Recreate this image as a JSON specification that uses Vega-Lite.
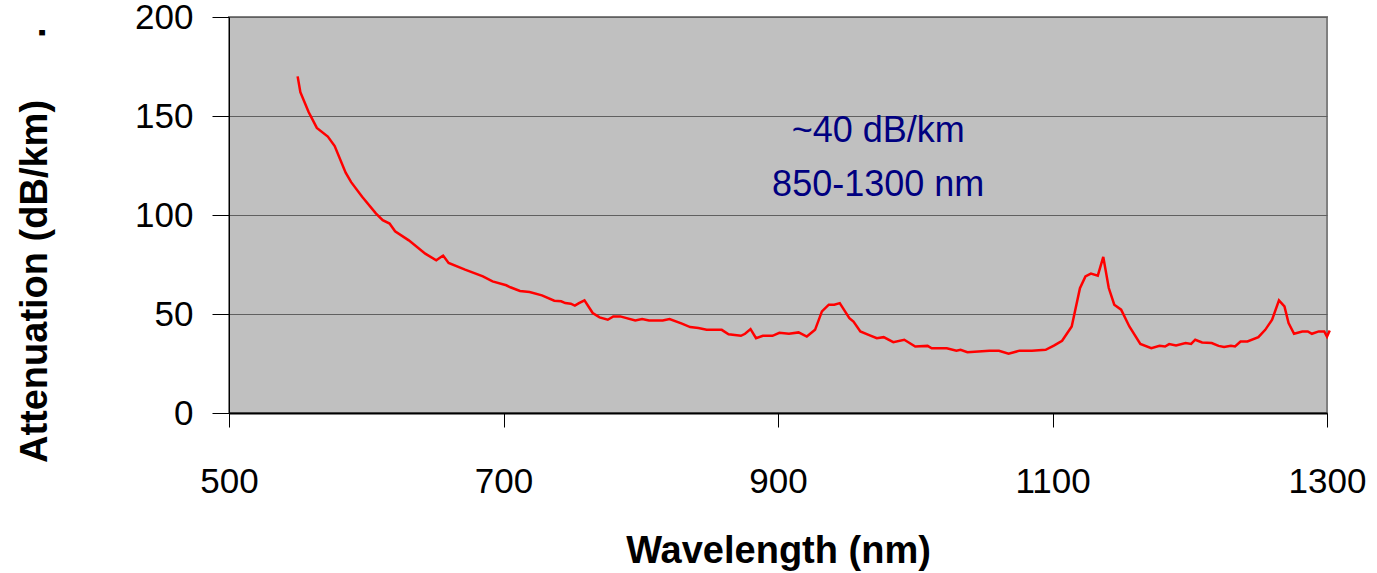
{
  "$schema": "https://vega.github.io/schema/vega-lite/v6.json",
  "width": 1098,
  "height": 396,
  "autosize": {"type": "none"},
  "padding": {"left": 229, "top": 17, "right": 50, "bottom": 160},
  "background": "white",
  "config": {
    "view": {"fill": "#c0c0c0", "stroke": "#808080", "strokeWidth": 2},
    "font": "Liberation Sans"
  },
  "datasets": {
    "spectrum": [
      {"wavelength": 550, "attenuation": 170},
      {"wavelength": 552, "attenuation": 162},
      {"wavelength": 558, "attenuation": 152},
      {"wavelength": 564, "attenuation": 144},
      {"wavelength": 572, "attenuation": 139.6},
      {"wavelength": 577, "attenuation": 134.8},
      {"wavelength": 585, "attenuation": 121.4},
      {"wavelength": 589, "attenuation": 116.6},
      {"wavelength": 597, "attenuation": 109.2},
      {"wavelength": 607, "attenuation": 100.8},
      {"wavelength": 612, "attenuation": 97.4},
      {"wavelength": 617, "attenuation": 95.7},
      {"wavelength": 621, "attenuation": 91.8},
      {"wavelength": 631, "attenuation": 87.2},
      {"wavelength": 643, "attenuation": 80.5},
      {"wavelength": 651, "attenuation": 77.1},
      {"wavelength": 656, "attenuation": 79.5},
      {"wavelength": 660, "attenuation": 75.8},
      {"wavelength": 672, "attenuation": 72.4},
      {"wavelength": 685, "attenuation": 69},
      {"wavelength": 692, "attenuation": 66.5},
      {"wavelength": 702, "attenuation": 64.5},
      {"wavelength": 705, "attenuation": 63.5},
      {"wavelength": 712, "attenuation": 61.6},
      {"wavelength": 719, "attenuation": 61.1},
      {"wavelength": 728, "attenuation": 59.4},
      {"wavelength": 737, "attenuation": 56.7},
      {"wavelength": 742, "attenuation": 56.4},
      {"wavelength": 745, "attenuation": 55.5},
      {"wavelength": 749, "attenuation": 55.2},
      {"wavelength": 752, "attenuation": 54.2},
      {"wavelength": 755, "attenuation": 55.5},
      {"wavelength": 759, "attenuation": 56.9},
      {"wavelength": 765, "attenuation": 50.5},
      {"wavelength": 770, "attenuation": 48.3},
      {"wavelength": 776, "attenuation": 47.1},
      {"wavelength": 780, "attenuation": 48.8},
      {"wavelength": 785, "attenuation": 48.8},
      {"wavelength": 796, "attenuation": 46.7},
      {"wavelength": 801, "attenuation": 47.4},
      {"wavelength": 806, "attenuation": 46.7},
      {"wavelength": 816, "attenuation": 46.7},
      {"wavelength": 821, "attenuation": 47.4},
      {"wavelength": 830, "attenuation": 45.1},
      {"wavelength": 836, "attenuation": 43.4},
      {"wavelength": 842, "attenuation": 42.9},
      {"wavelength": 848, "attenuation": 42},
      {"wavelength": 859, "attenuation": 42},
      {"wavelength": 864, "attenuation": 39.8},
      {"wavelength": 873, "attenuation": 39},
      {"wavelength": 876, "attenuation": 40},
      {"wavelength": 880, "attenuation": 42.4},
      {"wavelength": 884, "attenuation": 37.8},
      {"wavelength": 889, "attenuation": 39},
      {"wavelength": 896, "attenuation": 39},
      {"wavelength": 901, "attenuation": 40.5},
      {"wavelength": 908, "attenuation": 40},
      {"wavelength": 915, "attenuation": 40.7},
      {"wavelength": 921, "attenuation": 38.6},
      {"wavelength": 927, "attenuation": 42},
      {"wavelength": 932, "attenuation": 51.3},
      {"wavelength": 937, "attenuation": 54.7},
      {"wavelength": 941, "attenuation": 54.7},
      {"wavelength": 945, "attenuation": 55.5},
      {"wavelength": 952, "attenuation": 47.9},
      {"wavelength": 955, "attenuation": 46.2},
      {"wavelength": 960, "attenuation": 41.2},
      {"wavelength": 966, "attenuation": 39.5},
      {"wavelength": 972, "attenuation": 37.8},
      {"wavelength": 977, "attenuation": 38.3},
      {"wavelength": 984, "attenuation": 35.8},
      {"wavelength": 992, "attenuation": 37},
      {"wavelength": 1000, "attenuation": 33.6},
      {"wavelength": 1009, "attenuation": 33.9},
      {"wavelength": 1012, "attenuation": 32.7},
      {"wavelength": 1023, "attenuation": 32.7},
      {"wavelength": 1030, "attenuation": 31.4},
      {"wavelength": 1033, "attenuation": 31.9},
      {"wavelength": 1038, "attenuation": 30.7},
      {"wavelength": 1054, "attenuation": 31.5},
      {"wavelength": 1061, "attenuation": 31.4},
      {"wavelength": 1068, "attenuation": 29.9},
      {"wavelength": 1076, "attenuation": 31.5},
      {"wavelength": 1085, "attenuation": 31.5},
      {"wavelength": 1095, "attenuation": 31.9},
      {"wavelength": 1101, "attenuation": 34},
      {"wavelength": 1107, "attenuation": 36.5},
      {"wavelength": 1114, "attenuation": 43.7},
      {"wavelength": 1120, "attenuation": 63},
      {"wavelength": 1124, "attenuation": 69},
      {"wavelength": 1128, "attenuation": 70.4},
      {"wavelength": 1133, "attenuation": 69.4},
      {"wavelength": 1137, "attenuation": 78.8},
      {"wavelength": 1141, "attenuation": 63.1},
      {"wavelength": 1145, "attenuation": 54.7},
      {"wavelength": 1150, "attenuation": 52.2},
      {"wavelength": 1156, "attenuation": 43.7},
      {"wavelength": 1164, "attenuation": 34.9},
      {"wavelength": 1172, "attenuation": 32.7},
      {"wavelength": 1178, "attenuation": 33.9},
      {"wavelength": 1182, "attenuation": 33.6},
      {"wavelength": 1185, "attenuation": 34.8},
      {"wavelength": 1190, "attenuation": 34.1},
      {"wavelength": 1197, "attenuation": 35.3},
      {"wavelength": 1201, "attenuation": 34.9},
      {"wavelength": 1204, "attenuation": 37},
      {"wavelength": 1209, "attenuation": 35.6},
      {"wavelength": 1216, "attenuation": 35.3},
      {"wavelength": 1221, "attenuation": 33.9},
      {"wavelength": 1225, "attenuation": 33.3},
      {"wavelength": 1230, "attenuation": 33.9},
      {"wavelength": 1233, "attenuation": 33.6},
      {"wavelength": 1237, "attenuation": 36.1},
      {"wavelength": 1242, "attenuation": 36.1},
      {"wavelength": 1250, "attenuation": 38.3},
      {"wavelength": 1255, "attenuation": 42},
      {"wavelength": 1260, "attenuation": 47.1},
      {"wavelength": 1265, "attenuation": 56.9},
      {"wavelength": 1269, "attenuation": 53.8},
      {"wavelength": 1272, "attenuation": 45.4},
      {"wavelength": 1276, "attenuation": 40},
      {"wavelength": 1282, "attenuation": 41.2},
      {"wavelength": 1286, "attenuation": 41.2},
      {"wavelength": 1289, "attenuation": 40},
      {"wavelength": 1294, "attenuation": 41.2},
      {"wavelength": 1298, "attenuation": 41.2},
      {"wavelength": 1300, "attenuation": 38.6},
      {"wavelength": 1302, "attenuation": 41.7}
    ],
    "notes": [
      {"wavelength": 973, "attenuation": 142.6, "label": "~40 dB/km"},
      {"wavelength": 973, "attenuation": 115.3, "label": "850-1300 nm"}
    ]
  },
  "layer": [
    {
      "data": {"name": "spectrum"},
      "mark": {"type": "line", "color": "#ff0000", "strokeWidth": 2.5, "clip": false},
      "encoding": {
        "x": {
          "field": "wavelength",
          "type": "quantitative",
          "scale": {"domain": [500, 1300], "nice": false, "zero": false},
          "axis": {
            "title": "Wavelength (nm)",
            "values": [500, 700, 900, 1100, 1300],
            "format": "d",
            "grid": false,
            "domainColor": "#000000",
            "domainWidth": 2,
            "tickColor": "#000000",
            "tickSize": 14,
            "tickWidth": 1,
            "labelFontSize": 35,
            "labelColor": "#000000",
            "labelPadding": 37,
            "labelFlush": false,
            "labelFont": "Liberation Sans",
            "titleFont": "Liberation Sans",
            "titleFontSize": 38,
            "titleFontWeight": "bold",
            "titleColor": "#000000",
            "titleBaseline": "alphabetic",
            "titleY": 149
          }
        },
        "y": {
          "field": "attenuation",
          "type": "quantitative",
          "scale": {"domain": [0, 200], "nice": false},
          "axis": {
            "title": "Attenuation (dB/km)",
            "values": [0, 50, 100, 150, 200],
            "grid": true,
            "gridColor": "#606060",
            "gridWidth": 1,
            "domainColor": "#000000",
            "domainWidth": 1,
            "tickColor": "#000000",
            "tickSize": 17,
            "tickWidth": 1,
            "labelFontSize": 35,
            "labelColor": "#000000",
            "labelPadding": 19,
            "labelFont": "Liberation Sans",
            "titleFont": "Liberation Sans",
            "titleFontSize": 38,
            "titleFontWeight": "bold",
            "titleColor": "#000000",
            "titleAngle": -90,
            "titleAlign": "center",
            "titleBaseline": "middle",
            "titleX": -194,
            "titleY": 264
          }
        }
      }
    },
    {
      "data": {"name": "notes"},
      "mark": {"type": "text", "color": "#000080", "fontSize": 36, "font": "Liberation Sans", "align": "center", "baseline": "middle"},
      "encoding": {
        "x": {"field": "wavelength", "type": "quantitative"},
        "y": {"field": "attenuation", "type": "quantitative"},
        "text": {"field": "label", "type": "nominal"}
      }
    },
    {
      "data": {"values": [{"mark": "."}]},
      "mark": {"type": "text", "color": "#000000", "fontSize": 38, "fontWeight": "bold", "font": "Liberation Sans", "align": "center", "baseline": "alphabetic", "angle": 270, "clip": false},
      "encoding": {
        "x": {"datum": 366},
        "y": {"datum": 192},
        "text": {"field": "mark", "type": "nominal"}
      }
    }
  ]
}
